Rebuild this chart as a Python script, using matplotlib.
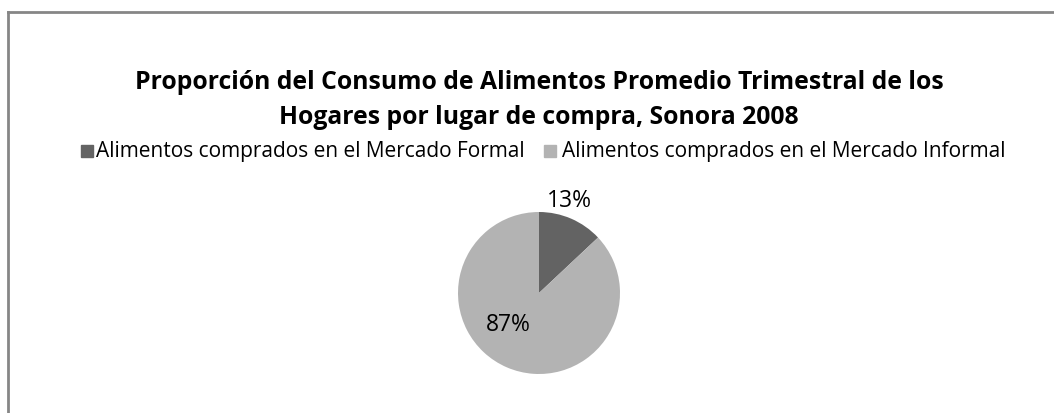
import matplotlib.pyplot as plt
from matplotlib.patches import Rectangle

# data
categories = ['Alimentos comprados en el Mercado Formal',
              'Alimentos comprados en el Mercado Informal']
shares = [13, 87]
pct_labels = ['13%', '87%']
colors = ['#636363', '#b3b3b3']

title = ('Proporción del Consumo de Alimentos Promedio Trimestral de los\n'
         'Hogares por lugar de compra, Sonora 2008')

W, H = 1054, 413
fig = plt.figure(figsize=(W / 100, H / 100), dpi=100)
fig.patch.set_facecolor('white')
plt.rcParams['font.family'] = ['Open Sans', 'DejaVu Sans']

# chart border (only top/left visible in the crop)
fig.add_artist(plt.Line2D([8 / W, 1], [1 - 11.5 / H] * 2, color='#868686', lw=2,
                          transform=fig.transFigure))
fig.add_artist(plt.Line2D([8 / W] * 2, [0, 1 - 11.5 / H], color='#868686', lw=2,
                          transform=fig.transFigure))

fig.text(539 / W, 1 - 100 / H, title, ha='center', va='center',
         fontsize=17.8, fontweight='bold', linespacing=1.5)

# pie
cx, cy, r = 539, 293, 81
ax = fig.add_axes([(cx - r) / W, 1 - (cy + r) / H, 2 * r / W, 2 * r / H])
wedges, _ = ax.pie(shares, colors=colors, startangle=90, counterclock=False,
                   wedgeprops=dict(linewidth=0))
ax.set_xlim(-1, 1)
ax.set_ylim(-1, 1)
ax.set_aspect('equal')
ax.text(0.37, 1.14, pct_labels[0], ha='center', va='center', fontsize=16.5)
ax.text(-0.38, -0.4, pct_labels[1], ha='center', va='center', fontsize=16.5)

# legend
ly = 1 - 151 / H
fig.add_artist(Rectangle((81 / W, ly - 6 / H), 12 / W, 12 / H,
                         color=colors[0], transform=fig.transFigure))
fig.text(96 / W, ly, categories[0], ha='left', va='center', fontsize=15)
fig.add_artist(Rectangle((544 / W, ly - 6 / H), 12 / W, 12 / H,
                         color=colors[1], transform=fig.transFigure))
fig.text(562 / W, ly, categories[1], ha='left', va='center', fontsize=15)

fig.savefig('out.png', dpi=100)
